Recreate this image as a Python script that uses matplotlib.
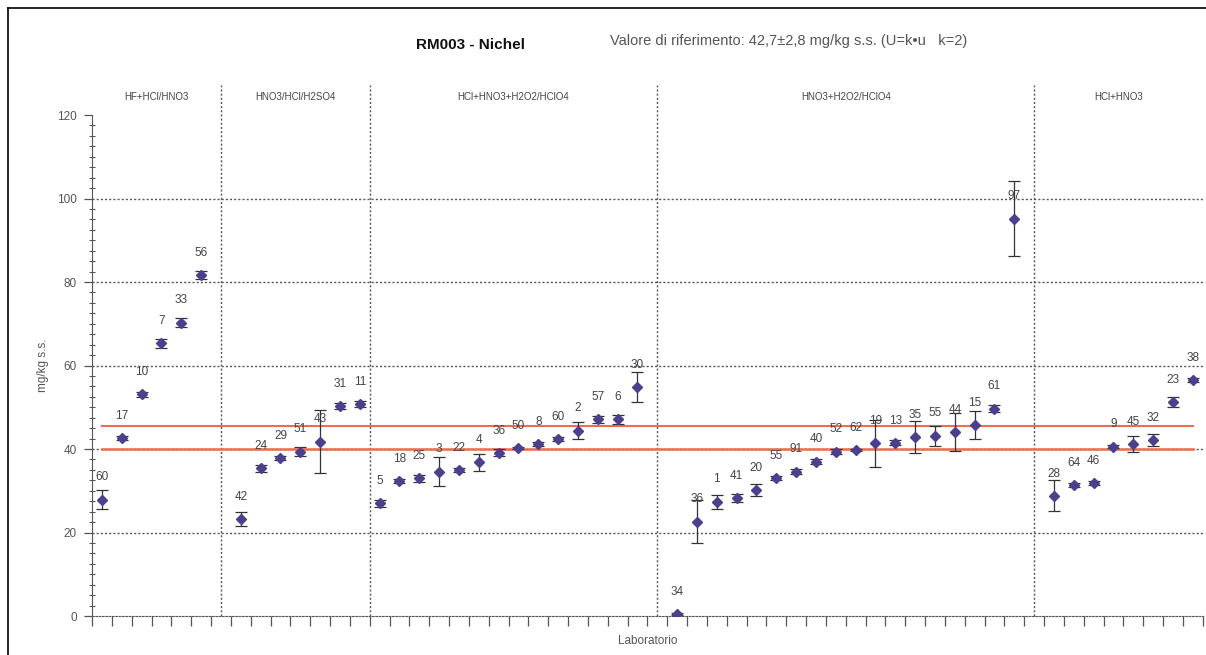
import matplotlib
matplotlib.use("Agg")
import matplotlib.pyplot as plt
from matplotlib.lines import Line2D
from matplotlib.ticker import MultipleLocator, NullFormatter

plt.rcParams["font.family"] = ["Liberation Sans", "DejaVu Sans"]

# Groups of digestion methods, in order along the x axis
group_names = ["HF+HCl/HNO3", "HNO3/HCl/H2SO4", "HCl+HNO3+H2O2/HClO4",
               "HNO3+H2O2/HClO4", "HCl+HNO3"]

# Lab codes per group
g1_labs = ["60", "17", "10", "7", "33", "56"]
g2_labs = ["42", "24", "29", "51", "43", "31", "11"]
g3_labs = ["5", "18", "25", "3", "22", "4", "36", "50", "8", "60", "2", "57", "6", "30"]
g4_labs = ["34", "36", "1", "41", "20", "55", "91", "40", "52", "62", "19", "13",
           "35", "55", "44", "15", "61", "97"]
g5_labs = ["28", "64", "46", "9", "45", "32", "23", "38"]

# Measured values (mg/kg s.s.)
g1_vals = [27.9, 42.6, 53.1, 65.3, 70.3, 81.7]
g2_vals = [23.2, 35.4, 37.8, 39.4, 41.8, 50.3, 50.8]
g3_vals = [27.0, 32.3, 33.0, 34.6, 34.9, 36.8, 39.1, 40.2, 41.2, 42.4, 44.4, 47.1, 47.1, 54.8]
g4_vals = [0.5, 22.6, 27.4, 28.2, 30.2, 33.0, 34.6, 37.0, 39.4, 39.8, 41.4, 41.5,
           42.9, 43.2, 44.1, 45.7, 49.7, 95.2]
g5_vals = [28.8, 31.4, 31.9, 40.6, 41.1, 42.2, 51.3, 56.5]

# Uncertainties (U)
g1_errs = [2.2, 0.5, 0.6, 1.0, 1.0, 1.0]
g2_errs = [1.7, 0.8, 0.5, 1.0, 7.6, 0.7, 0.8]
g3_errs = [0.8, 0.5, 0.8, 3.5, 0.5, 2.0, 0.8, 0.3, 0.5, 0.5, 2.0, 0.8, 1.0, 3.6]
g4_errs = [0.3, 5.1, 1.7, 1.0, 1.5, 0.5, 0.7, 0.5, 0.5, 0.3, 5.6, 0.6,
           3.8, 2.4, 4.5, 3.3, 0.8, 9.0]
g5_errs = [3.7, 0.4, 0.5, 0.4, 1.9, 1.5, 1.2, 0.5]

# Empty category slots left between consecutive groups
gap_slots = [1, 0, 1, 1]

ref_low, ref_high = 39.9, 45.5

labs_groups = [g1_labs, g2_labs, g3_labs, g4_labs, g5_labs]
vals_groups = [g1_vals, g2_vals, g3_vals, g4_vals, g5_vals]
errs_groups = [g1_errs, g2_errs, g3_errs, g4_errs, g5_errs]

# category positions
xs, labs, vals, errs = [], [], [], []
starts, ends = [], []
pos = 0
for gi, (l, v, e) in enumerate(zip(labs_groups, vals_groups, errs_groups)):
    starts.append(pos)
    for j in range(len(l)):
        xs.append(pos + j)
    labs += l
    vals += v
    errs += e
    pos += len(l)
    ends.append(pos - 1)
    if gi < len(gap_slots):
        pos += gap_slots[gi]
n_cat = pos
dividers = [(ends[i] + starts[i + 1]) / 2 for i in range(len(gap_slots))]

fig = plt.figure(figsize=(12.06, 6.55), dpi=100)
ax = fig.add_axes([0.0763, 0.0595, 0.921, 0.7649])

grid_kw = dict(color="#555555", lw=1.0, ls=(0, (1.5, 1.5)))
for y in [20, 40, 60, 80, 100]:
    ax.axhline(y, **grid_kw, zorder=1)
for d in dividers:
    ax.plot([d, d], [0, 127.3], **grid_kw, clip_on=False, zorder=1)

# reference interval
ax.plot([xs[0], xs[-1]], [ref_high, ref_high], color="#f26b4a", lw=1.5, zorder=2)
ax.plot([xs[0], xs[-1]], [ref_low, ref_low], color="#f26b4a", lw=1.8, zorder=2)

ax.errorbar(xs, vals, yerr=errs, fmt="D", ms=5.5, color="#4b3f8e",
            ecolor="#333333", elinewidth=0.9, capsize=4, capthick=0.9, zorder=3)

for x, v, l in zip(xs, vals, labs):
    ax.annotate(l, (x, v), xytext=(0, 16), textcoords="offset points",
                ha="center", va="center", fontsize=8.5, color="#444444")

# group headers
bounds = [-0.5] + dividers + [n_cat - 0.5]
for i, name in enumerate(group_names):
    ax.text((bounds[i] + bounds[i + 1]) / 2, 124.3, name, ha="center", va="center",
            fontsize=7, color="#444444", clip_on=False)

ax.set_xlim(-0.5, n_cat - 0.5)
ax.set_ylim(0, 120)
ax.set_xticks([i - 0.5 for i in range(n_cat + 1)])
ax.set_xticklabels([])
ax.tick_params(axis="x", direction="out", length=7, width=0.9, color="#555555")
ax.set_yticks(range(0, 121, 20))
ax.yaxis.set_minor_locator(MultipleLocator(2.5))
ax.yaxis.set_minor_formatter(NullFormatter())
ax.tick_params(axis="y", which="major", direction="out", length=6, width=0.9,
               color="#555555", labelsize=8.5, labelcolor="#555555", pad=5)
ax.tick_params(axis="y", which="minor", direction="inout", length=4, width=0.8,
               color="#555555")
for s in ["top", "right"]:
    ax.spines[s].set_visible(False)
ax.spines["left"].set_color("#555555")
ax.spines["bottom"].set_color("#555555")
ax.spines["bottom"].set_linestyle((0, (1.5, 1.5)))

ax.set_ylabel("mg/kg s.s.", fontsize=8.5, color="#555555", labelpad=6)
ax.set_xlabel("Laboratorio", fontsize=8.5, color="#555555", labelpad=3)

fig.text(0.39, 0.932, "RM003 - Nichel", fontsize=11, fontweight="bold",
         ha="center", va="center", color="#111111")
fig.text(0.506, 0.937, "Valore di riferimento: 42,7\u00b12,8 mg/kg s.s. (U=k\u2022u   k=2)",
         fontsize=10.5, ha="left", va="center", color="#555555")

# outer frame (left and top edges)
fig.add_artist(Line2D([8 / 1206, 8 / 1206], [0, 1 - 8 / 655], color="black", lw=1.2))
fig.add_artist(Line2D([8 / 1206, 1], [1 - 8 / 655, 1 - 8 / 655], color="black", lw=1.2))

fig.savefig("out.png", dpi=100)
